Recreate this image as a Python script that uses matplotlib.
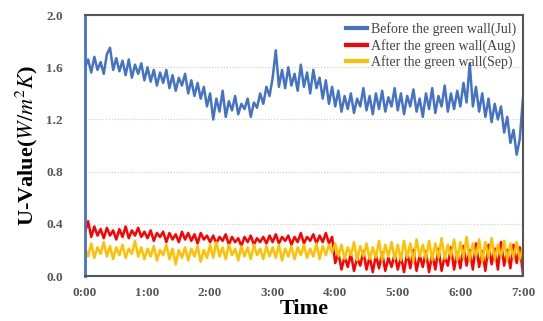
import numpy as np
import matplotlib.pyplot as plt

# time in minutes, every 3 min from 0:00 to 7:00
minutes = np.arange(0, 423, 3)

before_jul = [1.60, 1.66, 1.56, 1.68, 1.58, 1.64, 1.55, 1.70, 1.75, 1.58, 1.67, 1.57, 1.65, 1.54, 1.66, 1.52, 1.62, 1.55, 1.63, 1.50,
              1.60, 1.49, 1.58, 1.46, 1.56, 1.48, 1.58, 1.44, 1.54, 1.42, 1.52, 1.46, 1.55, 1.40, 1.50, 1.38, 1.48, 1.36, 1.45, 1.30,
              1.40, 1.20, 1.36, 1.26, 1.42, 1.22, 1.34, 1.27, 1.38, 1.24, 1.32, 1.28, 1.36, 1.22, 1.33, 1.29, 1.40, 1.32, 1.45, 1.38,
              1.52, 1.73, 1.45, 1.58, 1.44, 1.60, 1.46, 1.55, 1.42, 1.62, 1.45, 1.56, 1.40, 1.58, 1.44, 1.52, 1.36, 1.50, 1.32, 1.45,
              1.30, 1.42, 1.26, 1.38, 1.28, 1.40, 1.25, 1.36, 1.30, 1.44, 1.27, 1.38, 1.24, 1.40, 1.28, 1.42, 1.26, 1.37, 1.30, 1.44,
              1.27, 1.40, 1.24, 1.38, 1.30, 1.43, 1.26, 1.36, 1.22, 1.40, 1.28, 1.44, 1.25, 1.38, 1.30, 1.46, 1.26, 1.40, 1.28, 1.42,
              1.30, 1.48, 1.33, 1.63, 1.30, 1.45, 1.26, 1.40, 1.22, 1.36, 1.18, 1.32, 1.20, 1.30, 1.10, 1.22, 1.02, 1.12, 0.93, 1.05, 1.36]

after_aug = [0.33, 0.42, 0.30, 0.38, 0.31, 0.36, 0.29, 0.37, 0.31, 0.35, 0.28, 0.36, 0.30, 0.38, 0.29, 0.35, 0.31, 0.37, 0.30, 0.34,
             0.29, 0.35, 0.27, 0.33, 0.30, 0.34, 0.26, 0.33, 0.28, 0.32, 0.26, 0.34, 0.28, 0.33, 0.27, 0.32, 0.25, 0.33, 0.28, 0.31,
             0.26, 0.31, 0.25, 0.30, 0.27, 0.32, 0.24, 0.30, 0.26, 0.29, 0.23, 0.30, 0.26, 0.31, 0.24, 0.29, 0.26, 0.30, 0.25, 0.31,
             0.26, 0.32, 0.25, 0.30, 0.27, 0.31, 0.24, 0.30, 0.26, 0.33, 0.25, 0.30, 0.27, 0.32, 0.25, 0.31, 0.26, 0.33, 0.25, 0.30,
             0.10, 0.18, 0.05, 0.15, 0.07, 0.17, 0.04, 0.14, 0.08, 0.19, 0.05, 0.15, 0.03, 0.16, 0.06, 0.18, 0.04, 0.14, 0.07, 0.17,
             0.05, 0.15, 0.03, 0.18, 0.06, 0.20, 0.04, 0.16, 0.07, 0.19, 0.03, 0.17, 0.05, 0.21, 0.04, 0.15, 0.08, 0.22, 0.05, 0.18,
             0.06, 0.23, 0.08, 0.20, 0.05, 0.25, 0.07, 0.19, 0.04, 0.24, 0.09, 0.21, 0.05, 0.26, 0.08, 0.20, 0.06, 0.24, 0.10, 0.22, 0.02]

after_sep = [0.22, 0.15, 0.25, 0.14, 0.22, 0.17, 0.26, 0.15, 0.23, 0.13, 0.22, 0.16, 0.24, 0.14, 0.21, 0.17, 0.27, 0.15, 0.22, 0.13,
             0.21, 0.15, 0.23, 0.12, 0.20, 0.16, 0.24, 0.13, 0.21, 0.09, 0.20, 0.14, 0.22, 0.12, 0.21, 0.15, 0.23, 0.11, 0.20, 0.14,
             0.24, 0.14, 0.26, 0.15, 0.22, 0.13, 0.24, 0.16, 0.21, 0.12, 0.23, 0.15, 0.22, 0.13, 0.24, 0.16, 0.21, 0.13, 0.23, 0.15,
             0.22, 0.14, 0.24, 0.12, 0.21, 0.15, 0.23, 0.13, 0.22, 0.16, 0.24, 0.14, 0.21, 0.15, 0.25, 0.13, 0.23, 0.16, 0.24, 0.18,
             0.25, 0.15, 0.24, 0.13, 0.22, 0.16, 0.26, 0.12, 0.23, 0.15, 0.25, 0.13, 0.22, 0.14, 0.27, 0.12, 0.24, 0.15, 0.26, 0.13,
             0.24, 0.12, 0.27, 0.14, 0.25, 0.11, 0.28, 0.15, 0.24, 0.13, 0.27, 0.12, 0.25, 0.14, 0.29, 0.13, 0.24, 0.15, 0.28, 0.12,
             0.26, 0.14, 0.30, 0.12, 0.25, 0.15, 0.28, 0.11, 0.26, 0.14, 0.29, 0.13, 0.24, 0.15, 0.27, 0.12, 0.25, 0.14, 0.26, 0.13, 0.22]

labels = ['Before the green wall(Jul)', 'After the green wall(Aug)',
          'After the green wall(Sep)']
xticks = np.arange(0, 421, 60)
xticklabels = ['%d:00' % h for h in range(8)]
yticks = [0.0, 0.4, 0.8, 1.2, 1.6, 2.0]

plt.rcParams['font.family'] = ['Liberation Serif', 'DejaVu Serif']
plt.rcParams['mathtext.fontset'] = 'stix'

fig = plt.figure(figsize=(5.43, 3.21), dpi=100)
ax = fig.add_axes([0.1565, 0.140, 0.8065, 0.813])

ax.plot(minutes, before_jul, color='#4472C4', lw=1.8, label=labels[0])
ax.plot(minutes, after_aug, color='#FF0000', lw=1.8, label=labels[1])
ax.plot(minutes, after_sep, color='#FFC000', lw=1.8, label=labels[2])

ax.set_xlim(0, 420)
ax.set_ylim(0, 2.0)
ax.set_xticks(xticks)
ax.set_xticklabels(xticklabels)
ax.set_yticks(yticks)
ax.set_yticklabels(['%.1f' % v for v in yticks])
ax.tick_params(length=0, labelcolor='#555555')
ax.tick_params(axis='y', pad=16, labelsize=9.5)
ax.tick_params(axis='x', pad=8, labelsize=9.5)
for lab in ax.get_xticklabels() + ax.get_yticklabels():
    lab.set_fontweight('bold')

ax.yaxis.grid(True, ls=':', color='#cccccc', lw=0.8)
ax.set_axisbelow(True)
for s in ['top', 'right', 'bottom']:
    ax.spines[s].set_color('#555555')
    ax.spines[s].set_linewidth(1.5)
ax.spines['left'].set_color('#4472C4')
ax.spines['left'].set_linewidth(2)

ax.set_ylabel('U-Value($W/m^2K$)', fontsize=16, fontweight='bold', labelpad=4)
ax.set_xlabel('Time', fontsize=16, fontweight='bold', labelpad=0)

leg = ax.legend(loc='upper right', frameon=False, fontsize=10, handlelength=1.5,
                handletextpad=0.3, labelspacing=0.2, borderaxespad=0.1,
                labelcolor='#444444')
for line in leg.get_lines():
    line.set_linewidth(3)

fig.savefig('out.png', dpi=100)
